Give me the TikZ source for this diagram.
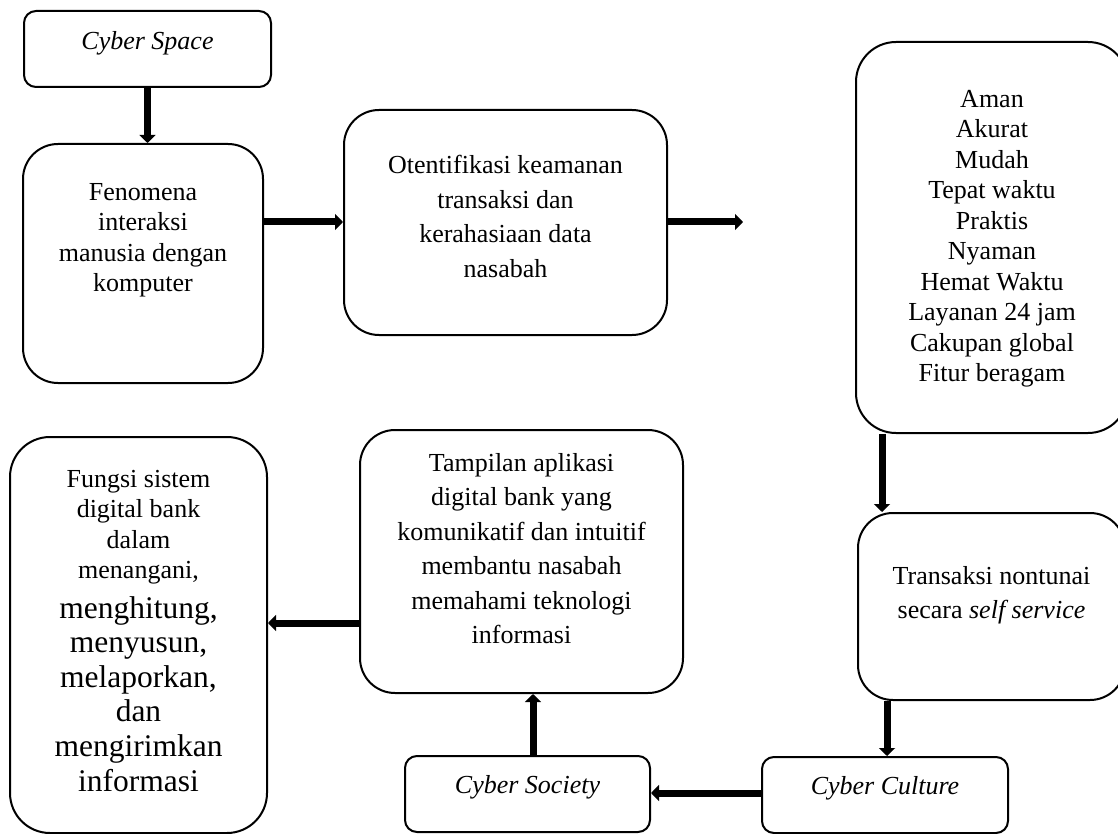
\documentclass[tikz,border=0pt]{standalone}
\usepackage{fontspec}
\setmainfont{Liberation Serif}
\usetikzlibrary{arrows.meta}
\begin{document}
\begin{tikzpicture}[x=1pt,y=-1pt,
  box/.style={draw, line width=2pt, rounded corners=#1, inner sep=0pt},
  box/.default=12pt,
  arr/.style={line width=7pt, -{Triangle[width=16pt,length=8pt]}},
  txt/.style={align=center, inner sep=0pt, font=\fontsize{26}{30.5}\selectfont},
  txtw/.style={align=center, inner sep=0pt, font=\fontsize{26}{34.5}\selectfont},
  txtl/.style={align=center, inner sep=0pt, font=\fontsize{31.5}{34.6}\selectfont}]
\useasboundingbox (0,0) rectangle (1118,834);
\clip (0,0) rectangle (1118,834);
% boxes
\node[box, minimum width=247pt, minimum height=76pt] (cs) at (147.5,49) {};
\node[box=35pt, minimum width=240pt, minimum height=239pt] (fen) at (143,263.5) {};
\node[box=35pt, minimum width=323pt, minimum height=225pt] (ote) at (505.5,222.5) {};
\node[box=40pt, minimum width=272pt, minimum height=391pt] (aman) at (992,237.5) {};
\node[box=35pt, minimum width=267pt, minimum height=187pt] (tra) at (991.5,606.5) {};
\node[box, minimum width=246pt, minimum height=76pt] (cc) at (885,795) {};
\node[box, minimum width=245pt, minimum height=76pt] (csoc) at (527.5,794) {};
\node[box=35pt, minimum width=323pt, minimum height=263pt] (tam) at (521.5,561.5) {};
\node[box=40pt, minimum width=257pt, minimum height=396pt] (fun) at (138.5,635) {};
% texts
\node[txt] (tcs) at (147.5,43) {\textit{Cyber Space}};
\node[txt, anchor=north] (tfen) at (143,183) {Fenomena\\interaksi\\manusia dengan\\komputer};
\node[txtw, anchor=north] (tote) at (505.5,155) {Otentifikasi keamanan\\transaksi dan\\kerahasiaan data\\nasabah};
\node[txt, anchor=north] (taman) at (992,90) {Aman\\Akurat\\Mudah\\Tepat waktu\\Praktis\\Nyaman\\Hemat Waktu\\Layanan 24 jam\\Cakupan global\\Fitur beragam};
\node[txtw, anchor=north] (ttra) at (991.5,566) {Transaksi nontunai\\secara \textit{self service}};
\node[txt] (tcc) at (885,788) {\textit{Cyber Culture}};
\node[txt] (tcsoc) at (527.5,787) {\textit{Cyber Society}};
\node[txtw, anchor=north] (ttam) at (521.5,453) {Tampilan aplikasi\\digital bank yang\\komunikatif dan intuitif\\membantu nasabah\\memahami teknologi\\informasi};
\node[txt, anchor=north] (tfun1) at (138.5,470) {Fungsi sistem\\digital bank\\dalam\\menangani,};
\node[txtl, anchor=north] (tfun2) at (138.5,596) {menghitung,\\menyusun,\\melaporkan,\\dan\\mengirimkan\\informasi};
% connector coordinates
\coordinate (y222) at (0,222);
\coordinate (x882) at (882,0);
\coordinate (x887) at (887,0);
\coordinate (y793) at (0,793);
\coordinate (x533) at (533,0);
\coordinate (y623) at (0,623);
\coordinate (free) at (743,222);
% arrows
\draw[arr] (cs.south) -- (cs.south |- fen.north);
\draw[arr] (fen.east |- y222) -- (ote.west |- y222);
\draw[arr] (ote.east |- y222) -- (free);
\draw[arr] (x882 |- aman.south) -- (x882 |- tra.north);
\draw[arr] (x887 |- tra.south) -- (x887 |- cc.north);
\draw[arr] (cc.west |- y793) -- (csoc.east |- y793);
\draw[arr] (x533 |- csoc.north) -- (x533 |- tam.south);
\draw[arr] (tam.west |- y623) -- (fun.east |- y623);
\end{tikzpicture}
\end{document}
